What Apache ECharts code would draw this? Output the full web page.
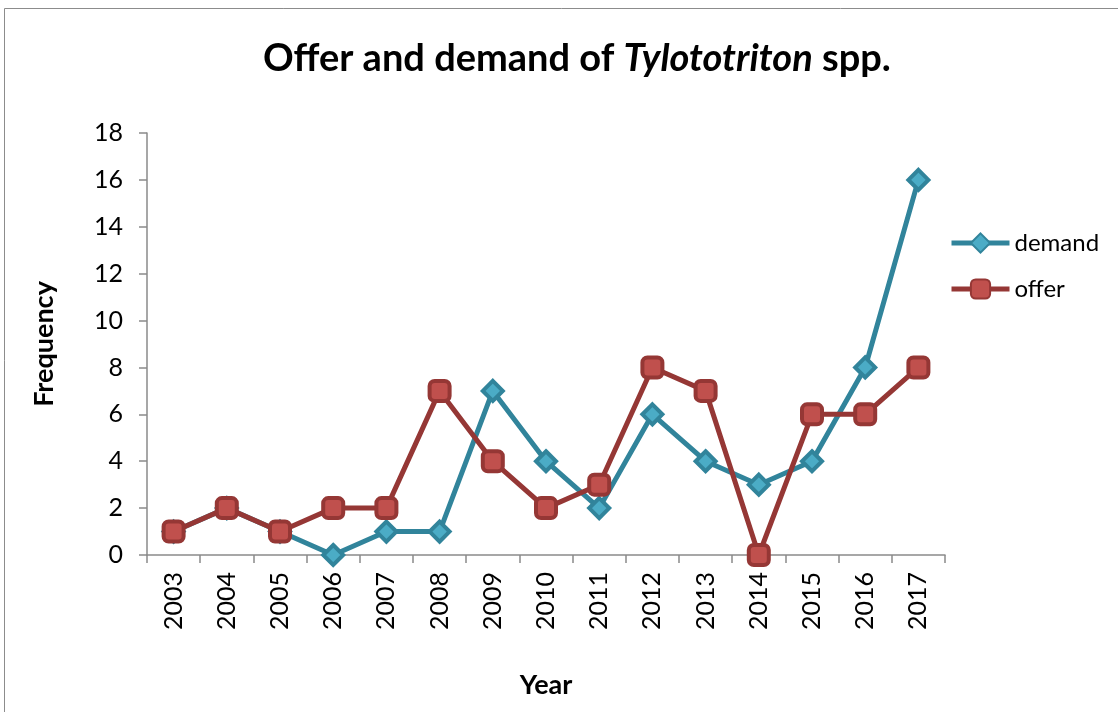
<!DOCTYPE html>
<html><head><meta charset="utf-8">
<script src="https://cdn.jsdelivr.net/npm/echarts@6/dist/echarts.min.js"></script>
<style>html,body{margin:0;padding:0;background:#fff}#c{width:1118px;height:712px}</style>
</head><body><div id="c"></div>
<script>
const years = ['2003','2004','2005','2006','2007','2008','2009','2010','2011','2012','2013','2014','2015','2016','2017'];
const demand = [1,2,1,0,1,1,7,4,2,6,4,3,4,8,16];
const offer = [1,2,1,2,2,7,4,2,3,8,7,0,6,6,8];
const yTicks = [0,2,4,6,8,10,12,14,16,18];

const chart = echarts.init(document.getElementById('c'));
const font = 'Lato, "Open Sans", sans-serif';
chart.setOption({
  animation: false,
  backgroundColor: '#fff',
  graphic: [{type:'rect', shape:{x:4.5,y:8.5,width:1120,height:720}, style:{fill:'none', stroke:'#8c8c8c', lineWidth:1}}],
  title: {
    text: '{a|Offer and demand of }{b|Tylototriton}{a| spp.}',
    left: 258, top: 35,
    textStyle: {
      rich: {
        a: {fontFamily: font, fontWeight: 'bold', fontSize: 38, color: '#000'},
        b: {fontFamily: font, fontWeight: 'bold', fontStyle: 'italic', fontSize: 38, color: '#000'}
      }
    }
  },
  legend: {
    orient: 'vertical', left: 944, top: 226, itemGap: 22, itemWidth: 58, itemHeight: 24,
    textStyle: {fontFamily: font, fontSize: 24, color: '#000'},
    data: [
      {name: 'demand', lineStyle: {width: 5}},
      {name: 'offer', lineStyle: {width: 5}}
    ]
  },
  grid: {left: 147, right: 173, top: 133, bottom: 157, containLabel: false, outerBoundsMode: 'none'},
  xAxis: {
    type: 'category', data: years, boundaryGap: true,
    name: 'Year', nameLocation: 'middle', nameGap: 117,
    nameTextStyle: {fontFamily: font, fontWeight: 'bold', fontSize: 27, color: '#000'},
    axisLine: {lineStyle: {color: '#8a8a8a', width: 1.5}},
    axisTick: {show: true, alignWithLabel: false, length: 8, lineStyle: {color: '#8a8a8a', width: 1.5}},
    axisLabel: {rotate: 90, fontFamily: font, fontSize: 25, color: '#000', margin: 17}
  },
  yAxis: {
    type: 'value', min: 0, max: 18, interval: 2,
    name: 'Frequency', nameLocation: 'middle', nameGap: 89, nameRotate: 90,
    nameTextStyle: {fontFamily: font, fontWeight: 'bold', fontSize: 27, color: '#000'},
    axisLine: {show: true, lineStyle: {color: '#8a8a8a', width: 1.5}},
    axisTick: {show: true, length: 8, inside: false, lineStyle: {color: '#8a8a8a', width: 1.5}},
    splitLine: {show: false},
    axisLabel: {fontFamily: font, fontSize: 25, color: '#000', margin: 24,
      formatter: v => yTicks.includes(v) ? String(v) : ''}
  },
  series: [
    {
      name: 'demand', type: 'line', data: demand, z: 2,
      symbol: 'diamond', symbolSize: 20,
      lineStyle: {color: '#31849B', width: 5},
      itemStyle: {color: '#4BACC6', borderColor: '#31849B', borderWidth: 4},
      color: '#31849B'
    },
    {
      name: 'offer', type: 'line', data: offer, z: 3,
      symbol: 'roundRect', symbolSize: 20,
      lineStyle: {color: '#953735', width: 5},
      itemStyle: {color: '#C0504D', borderColor: '#953735', borderWidth: 4},
      color: '#953735'
    }
  ]
});
</script></body></html>
